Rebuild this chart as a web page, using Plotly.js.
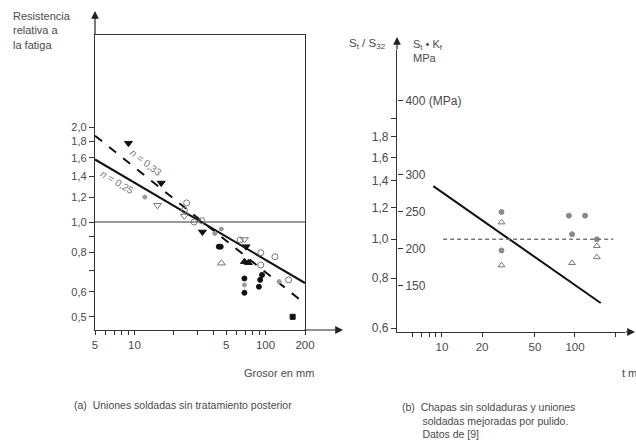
<!DOCTYPE html>
<html><head><meta charset="utf-8">
<script src="https://cdn.plot.ly/plotly-3.0.1.min.js"></script>
<style>html,body{margin:0;padding:0;background:#fff}#c{width:636px;height:443px}</style>
</head><body><div id="c"></div>
<script>
// ---- Panel (a) data: thickness (mm) vs relative fatigue strength
const downFilledX = [9, 16, 33, 71];
const downFilledY = [1.78, 1.33, 0.93, 0.835];
const downOpenX = [15, 24, 69];
const downOpenY = [1.13, 1.045, 0.88];
const circleOpenX = [25, 24, 28.5, 32.6, 64, 92, 118, 92, 150];
const circleOpenY = [1.15, 1.09, 1.0, 1.01, 0.877, 0.799, 0.776, 0.73, 0.655];
const dotGrayX = [12, 41, 46, 69, 127];
const dotGrayY = [1.2, 0.92, 0.95, 0.631, 0.647];
const circleFilledX = [44, 45.5, 69, 69, 94, 91, 89];
const circleFilledY = [0.835, 0.835, 0.662, 0.596, 0.679, 0.655, 0.623];
const upOpenX = [46];
const upOpenY = [0.74];
const upFilledX = [69, 74];
const upFilledY = [0.748, 0.743];
const squareFilledX = [161];
const squareFilledY = [0.5];
const lineN025X = [5, 200];
const lineN025Y = [1.58, 0.64];
const lineN033X = [5, 200];
const lineN033Y = [1.88, 0.55];
const refX = [5, 200];
const refY = [1.0, 1.0];
const aXTickVals = [5,6,7,8,9,10,20,30,40,50,60,70,80,90,100,200];
const aXTickText = ['5','','','','','10','','','','5','','','','','100','200'];
const aYTickVals = [0.5,0.6,0.7,0.8,0.9,1.0,1.2,1.4,1.6,1.8,2.0];
const aYTickText = ['0,5','0,6','','0,8','','1,0','1,2','1,4','1,6','1,8','2,0'];

// ---- Panel (b) data: thickness t (mm) vs St*Kf (MPa) and St/S32 ratio
const bCircleX = [28, 28, 90, 119, 95, 146];
const bCircleY = [250, 198, 245, 245, 220, 213];
const bTriX = [28, 28, 95, 146, 146];
const bTriY = [236, 178, 181, 204, 189];
const bSolidX = [8.6, 156];
const bSolidY = [285, 127];
const bDashX = [10.2, 194];      // mean ratio line
const bDashRatio = [1.0, 1.0];
const bXTickVals = [6,7,8,9,10,20,50,100,200];
const bXTickText = ['','','','','10','20','50','100',''];
const bRatioVals = [0.6,0.8,1.0,1.2,1.4,1.6,1.8,2.0];
const bRatioText = ['0,6','0,8','1,0','1,2','1,4','1,6','1,8',''];
const bMpaVals = [150,200,250,300,400];
const bMpaText = ['150','200','250','300','400 (MPa)'];

const W = 636, H = 443;
const px = x => x / W;
const py = y => 1 - y / H;
const TXT = '#4a4a4a';
const FONT = 'Liberation Sans, Arial, sans-serif';

function mk(x, y, sym, size, fill, line, xa, ya) {
  return {x, y, type:'scatter', mode:'markers', xaxis:xa||'x', yaxis:ya||'y',
    marker:{symbol:sym, size:size, color:fill, line:{color:line, width:1}}, hoverinfo:'skip'};
}
function ln(x, y, color, width, dash, xa, ya) {
  return {x, y, type:'scatter', mode:'lines', xaxis:xa||'x', yaxis:ya||'y',
    line:{color, width, dash:dash||'solid'}, hoverinfo:'skip'};
}

const traces = [
  ln(refX, refY, '#7a7a7a', 1.6),
  ln(lineN025X, lineN025Y, '#111', 2),
  ln(lineN033X, lineN033Y, '#111', 2, 'dash'),
  mk(downFilledX, downFilledY, 'triangle-down', 7, '#111', '#111'),
  mk(downOpenX, downOpenY, 'triangle-down-open', 7, '#777', '#777'),
  mk(circleOpenX, circleOpenY, 'circle-open', 6, '#777', '#777'),
  mk(dotGrayX, dotGrayY, 'circle', 4, '#999', '#999'),
  mk(circleFilledX, circleFilledY, 'circle', 5, '#111', '#111'),
  mk(upOpenX, upOpenY, 'triangle-up-open', 7, '#777', '#777'),
  mk(upFilledX, upFilledY, 'triangle-up', 7, '#111', '#111'),
  mk(squareFilledX, squareFilledY, 'square', 5, '#111', '#111'),
  ln(bDashX, bDashRatio, '#777', 1.6, '4px,3px', 'x2', 'y3'),
  ln(bSolidX, bSolidY, '#111', 2, 'solid', 'x2', 'y2'),
  mk(bCircleX, bCircleY, 'circle', 5, '#8a8a8a', '#8a8a8a', 'x2', 'y2'),
  mk(bTriX, bTriY, 'triangle-up-open', 6, '#777', '#777', 'x2', 'y2')
];

const axFont = {family: FONT, size: 11, color: TXT};
const bDomain = [py(332), py(50)];
function txt(x, y, text, opts) {
  return Object.assign({xref:'paper', yref:'paper', x:px(x), y:py(y), text, showarrow:false,
    xanchor:'center', yanchor:'middle', font:{family:FONT, size:11, color:TXT}}, opts||{});
}
function arrow(x, y, ax, ay) {
  return {xref:'paper', yref:'paper', x:px(x), y:py(y), ax, ay, text:'', showarrow:true,
    arrowhead:2, arrowsize:1.3, arrowwidth:1.2, arrowcolor:'#222'};
}
const layout = {
  width: W, height: H, autosize: false, showlegend: false,
  margin: {l:0, r:0, t:0, b:0},
  paper_bgcolor: '#fff', plot_bgcolor: 'rgba(0,0,0,0)',
  font: {family: FONT, color: TXT},
  xaxis: {type:'log', domain:[px(95), px(305)], range:[Math.log10(5), Math.log10(200)],
    anchor:'y', tickvals:aXTickVals, ticktext:aXTickText, ticks:'outside', ticklen:4,
    tickcolor:'#333', showline:true, linecolor:'#333', linewidth:1.2, mirror:true,
    showgrid:false, zeroline:false, tickfont:{family:FONT, size:11.5, color:TXT}},
  yaxis: {type:'log', domain:[py(330), py(35)], range:[-0.343, 0.594],
    anchor:'x', tickvals:aYTickVals, ticktext:aYTickText, ticks:'outside', ticklen:5,
    tickcolor:'#333', showline:true, linecolor:'#333', linewidth:1.2, mirror:true,
    showgrid:false, zeroline:false, tickfont:axFont},
  xaxis2: {type:'log', domain:[px(397), px(625)], range:[0.6617, 2.376], anchor:'y3',
    tickvals:bXTickVals, ticktext:bXTickText, ticks:'outside', ticklen:4, tickcolor:'#333',
    showline:true, linecolor:'#333', linewidth:1.2, showgrid:false, zeroline:false,
    tickfont:{family:FONT, size:11.5, color:TXT}},
  yaxis2: {domain:bDomain, anchor:'free', position:px(397), side:'right', range:[87.8, 468.9],
    tickvals:bMpaVals, ticktext:bMpaText, ticks:'outside', ticklen:5, tickcolor:'#333',
    showline:false, showgrid:false, zeroline:false, tickfont:{family:FONT, size:12, color:TXT}},
  yaxis3: {type:'log', domain:bDomain, range:[-0.2317, 0.4723], anchor:'x2', side:'left',
    tickvals:bRatioVals, ticktext:bRatioText, ticks:'outside', ticklen:5, tickcolor:'#333',
    showline:true, linecolor:'#333', linewidth:1.2, showgrid:false, zeroline:false,
    tickfont:{family:FONT, size:12, color:TXT}},
  annotations: [
    arrow(95, 11, 0, 25),
    arrow(343, 330, -40, 0),
    arrow(397, 37, 0, 14),
    arrow(638, 332, -14, 0),
    txt(11, 8, 'Resistencia<br>relativa a<br>la fatiga', {xanchor:'left', yanchor:'top', align:'left'}),
    txt(146, 162, '<i>n</i> = 0,33', {textangle:38, font:{family:FONT, size:10, color:'#777'}}),
    txt(118, 182, '<i>n</i> = 0,25', {textangle:31, font:{family:FONT, size:10, color:'#777'}}),
    txt(316, 373, 'Grosor en mm', {xanchor:'right'}),
    txt(72, 405, '(a)  Uniones soldadas sin tratamiento posterior', {xanchor:'left', font:{family:FONT, size:10.5, color:TXT}}),
    txt(388, 44, 'S<sub>t</sub> / S<sub>32</sub>', {xanchor:'right', font:{family:FONT, size:11.5, color:TXT}}),
    txt(411, 36, 'S<sub>t</sub> • K<sub>f</sub><br>MPa', {xanchor:'left', yanchor:'top', align:'left'}),
    txt(620, 373, 't mm', {xanchor:'left'}),
    txt(400, 399, '(b)  Chapas sin soldaduras y uniones<br>       soldadas mejoradas por pulido.<br>       Datos de [9]',
      {xanchor:'left', yanchor:'top', align:'left', font:{family:FONT, size:10.5, color:TXT}})
  ]
};
Plotly.newPlot('c', traces, layout, {staticPlot:true, displayModeBar:false});
</script></body></html>
